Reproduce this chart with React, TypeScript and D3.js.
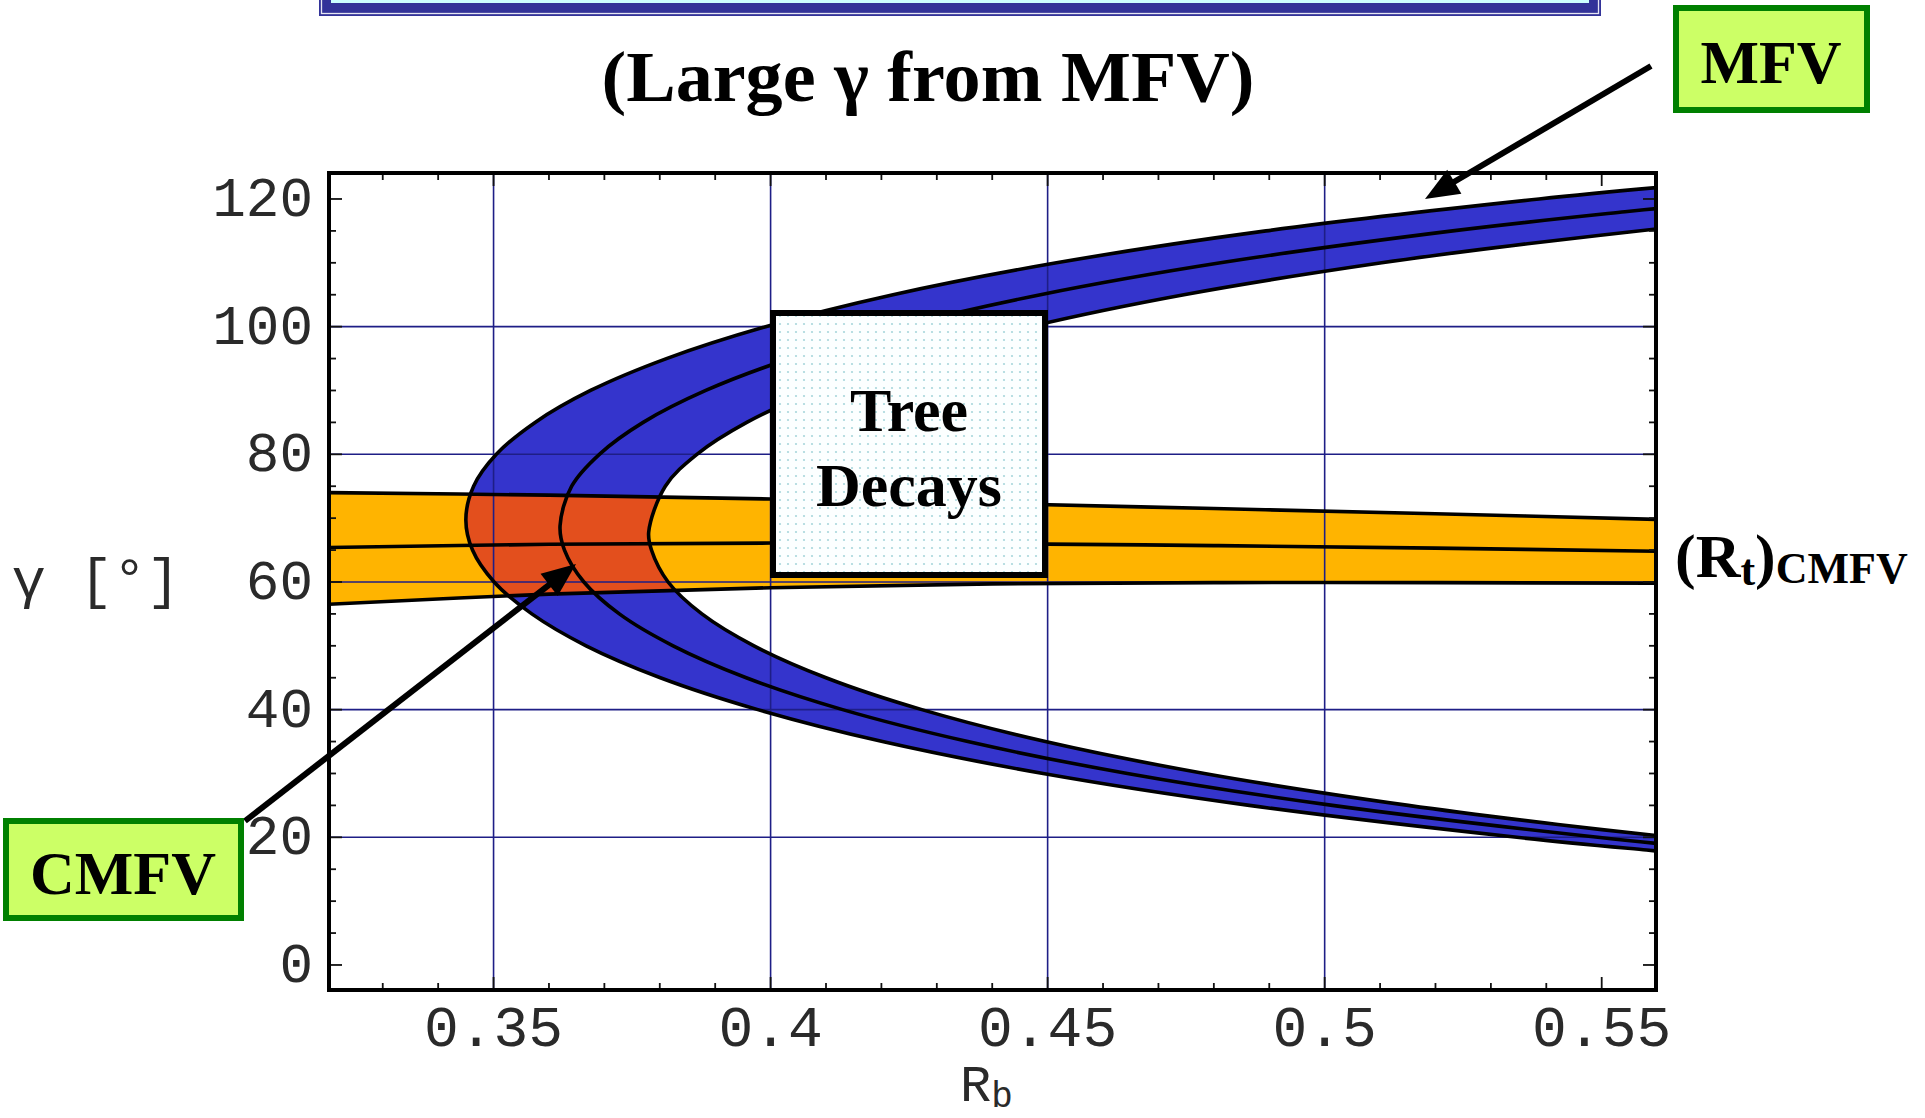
import React from "react";
import * as d3 from "d3";

const W = 1925;
const H = 1118;

// axis ticks
const rbTicks = [0.35, 0.4, 0.45, 0.5, 0.55];
const rbTickLabels = ["0.35", "0.4", "0.45", "0.5", "0.55"];
const rbGrid = [0.35, 0.4, 0.45, 0.5];
const gammaTicks = [0, 20, 40, 60, 80, 100, 120];
const gammaGrid = [20, 40, 60, 80, 100];

// MFV band (blue), points [Rb, gamma]
const mfvOuter: [number, number][] = [
  [0.5644, 17.5], [0.5581, 18], [0.5347, 20], [0.4864, 25], [0.4492, 30], [0.4202, 35],
  [0.3977, 40], [0.3801, 45], [0.3667, 50], [0.3569, 55], [0.3501, 60], [0.3462, 65],
  [0.345, 69.8], [0.3464, 75], [0.3505, 80], [0.3575, 85], [0.3675, 90], [0.3812, 95],
  [0.3991, 100], [0.4221, 105], [0.4516, 110], [0.4894, 115], [0.5387, 120], [0.5626, 122],
];
const mfvCentral: [number, number][] = [
  [0.5664, 18.5], [0.5493, 20], [0.5014, 25], [0.4644, 30], [0.4356, 35], [0.413, 40],
  [0.3956, 45], [0.3824, 50], [0.3727, 55], [0.3663, 60], [0.3628, 65], [0.362, 68.8],
  [0.3641, 75], [0.3691, 80], [0.377, 85], [0.3883, 90], [0.4035, 95], [0.4233, 100],
  [0.4487, 105], [0.4812, 110], [0.5231, 115], [0.5542, 118], [0.5657, 119],
];
const mfvInner: [number, number][] = [
  [0.5627, 20], [0.5421, 22], [0.5151, 25], [0.4783, 30], [0.4496, 35], [0.4273, 40],
  [0.41, 45], [0.397, 50], [0.3876, 55], [0.3815, 60], [0.3785, 65], [0.378, 67.8],
  [0.381, 75], [0.3867, 80], [0.3957, 85], [0.4083, 90], [0.4251, 95], [0.4468, 100],
  [0.4746, 105], [0.5103, 110], [0.5366, 113], [0.5672, 116],
];

// (Rt)CMFV band (orange)
const rtUpper: [number, number][] = [
  [0.32, 74.0], [0.36, 73.6], [0.4, 73.0], [0.44, 72.3], [0.48, 71.5], [0.52, 70.7], [0.56, 69.8],
];
const rtCentral: [number, number][] = [
  [0.32, 65.4], [0.36, 65.9], [0.4, 66.1], [0.44, 66.0], [0.48, 65.7], [0.52, 65.3], [0.56, 64.8],
];
const rtLower: [number, number][] = [
  [0.32, 56.5], [0.36, 58.1], [0.4, 59.1], [0.44, 59.7], [0.48, 59.9], [0.52, 59.9], [0.56, 59.8],
];

const SERIF = "'Liberation Serif', 'Times New Roman', serif";
const MONO = "'Liberation Mono', 'Courier New', monospace";

function arrow(x0: number, y0: number, x1: number, y1: number, head = 34, half = 14) {
  const dx = x1 - x0, dy = y1 - y0;
  const len = Math.hypot(dx, dy);
  const ux = dx / len, uy = dy / len;
  const bx = x1 - ux * head, by = y1 - uy * head;
  return {
    line: { x1: x0, y1: y0, x2: bx + ux * 4, y2: by + uy * 4 },
    head: `${x1},${y1} ${bx - uy * half},${by + ux * half} ${bx + uy * half},${by - ux * half}`,
  };
}

export default function App() {
  const x = d3.scaleLinear().domain([0.3203, 0.5598]).range([329, 1656]);
  const y = d3.scaleLinear().domain([-3.92, 124.07]).range([990, 173]);
  const [x0, x1] = x.range();
  const [y0, y1] = [y.range()[1], y.range()[0]];

  const line = d3.line<[number, number]>()
    .x(d => x(d[0]))
    .y(d => y(d[1]))
    .curve(d3.curveCatmullRom.alpha(0.5));
  const band = (a: [number, number][], b: [number, number][]) =>
    line(a)! + line(b.slice().reverse())!.replace(/^M/, "L") + "Z";

  const mfvBand = band(mfvOuter, mfvInner);
  const rtBand = band(rtUpper, rtLower);

  const xMinor = d3.range(33, 56).map(v => v / 100).filter(v => Math.round(v * 100) % 5 !== 0);
  const yMinor = d3.range(0, 125, 5).filter(v => v % 20 !== 0);

  const mfvArrow = arrow(1651, 66, 1425, 199);
  const cmfvArrow = arrow(245, 821, 576, 564);

  return (
    <svg width={W} height={H} style={{ position: "absolute", left: 0, top: 0, background: "#fff" }}>
      <defs>
        <clipPath id="plot">
          <rect x={x0} y={y0} width={x1 - x0} height={y1 - y0} />
        </clipPath>
        <clipPath id="rtClip">
          <path d={rtBand} />
        </clipPath>
        <pattern id="dots" width={8} height={8} patternUnits="userSpaceOnUse">
          <rect width={8} height={8} fill="#fcffff" />
          <circle cx={4} cy={4} r={1.1} fill="#a9d7dc" />
        </pattern>
      </defs>

      {/* header frame cut off at the top */}
      <rect x={319} y={-30} width={1282} height={46} fill="#333399" />
      <rect x={321.5} y={-30} width={1277} height={43.5} fill="none" stroke="#e6e6f2" strokeWidth={1.3} />
      <rect x={331} y={-30} width={1258} height={33} fill="#ccffff" />

      <text x={928} y={101} textAnchor="middle" fontFamily={SERIF} fontWeight="bold" fontSize={72}
        textLength={653} lengthAdjust="spacingAndGlyphs">(Large γ from MFV)</text>

      <g clipPath="url(#plot)">
        <path d={rtBand} fill="#ffb400" />
        <path d={mfvBand} fill="#3434cc" />
        <path d={mfvBand} fill="#e34f1d" clipPath="url(#rtClip)" />

        {rbGrid.map(v => (
          <line key={"gx" + v} x1={x(v)} x2={x(v)} y1={y0} y2={y1} stroke="#1e1e86" strokeWidth={1.6} />
        ))}
        {gammaGrid.map(v => (
          <line key={"gy" + v} x1={x0} x2={x1} y1={y(v)} y2={y(v)} stroke="#1e1e86" strokeWidth={1.6} />
        ))}

        {[rtUpper, rtCentral, rtLower, mfvOuter, mfvCentral, mfvInner].map((s, i) => (
          <path key={"c" + i} d={line(s)!} fill="none" stroke="#000" strokeWidth={3.6} strokeLinejoin="round" />
        ))}
      </g>

      {/* ticks */}
      <g stroke="#111" strokeWidth={1.8}>
        {rbTicks.map(v => (
          <g key={"tx" + v}>
            <line x1={x(v)} x2={x(v)} y1={y1} y2={y1 - 13} />
            <line x1={x(v)} x2={x(v)} y1={y0} y2={y0 + 13} />
          </g>
        ))}
        {xMinor.map(v => (
          <g key={"mx" + v}>
            <line x1={x(v)} x2={x(v)} y1={y1} y2={y1 - 7} />
            <line x1={x(v)} x2={x(v)} y1={y0} y2={y0 + 7} />
          </g>
        ))}
        {gammaTicks.map(v => (
          <g key={"ty" + v}>
            <line x1={x0} x2={x0 + 13} y1={y(v)} y2={y(v)} />
            <line x1={x1} x2={x1 - 13} y1={y(v)} y2={y(v)} />
          </g>
        ))}
        {yMinor.map(v => (
          <g key={"my" + v}>
            <line x1={x0} x2={x0 + 7} y1={y(v)} y2={y(v)} />
            <line x1={x1} x2={x1 - 7} y1={y(v)} y2={y(v)} />
          </g>
        ))}
      </g>

      <rect x={x0} y={y0} width={x1 - x0} height={y1 - y0} fill="none" stroke="#000" strokeWidth={4} />

      {/* tick labels */}
      <g fontFamily={MONO} fill="#2a2a2a">
        {rbTicks.map((v, i) => (
          <text key={"lx" + v} x={x(v)} y={1046} fontSize={58} textAnchor="middle">{rbTickLabels[i]}</text>
        ))}
        {gammaTicks.map(v => (
          <text key={"ly" + v} x={313} y={y(v) + 17} fontSize={56} textAnchor="end">{v}</text>
        ))}
      </g>
      <text x={12} y={597} fontFamily={MONO} fontSize={56} fill="#2a2a2a">γ [°]</text>
      <text x={960} y={1101} fontFamily={MONO} fontSize={52} fill="#2a2a2a">
        R<tspan fontSize={36} dy={6}>b</tspan>
      </text>

      {/* tree decays box */}
      <rect x={773} y={313} width={272} height={262} fill="url(#dots)" stroke="#000" strokeWidth={6} />
      <text x={909} y={431} textAnchor="middle" fontFamily={SERIF} fontWeight="bold" fontSize={62}>Tree</text>
      <text x={909} y={506} textAnchor="middle" fontFamily={SERIF} fontWeight="bold" fontSize={62}>Decays</text>

      {/* (Rt)CMFV label */}
      <text x={1675} y={577} fontFamily={SERIF} fontWeight="bold" fontSize={62}>
        (R<tspan fontSize={44} dy={8}>t</tspan><tspan dy={-8}>)</tspan><tspan fontSize={44} dy={6}>CMFV</tspan>
      </text>

      {/* MFV annotation */}
      <line {...mfvArrow.line} stroke="#000" strokeWidth={6} />
      <polygon points={mfvArrow.head} fill="#000" />
      <rect x={1676} y={8} width={191} height={102} fill="#ccff66" stroke="#008000" strokeWidth={6} />
      <text x={1771} y={83} textAnchor="middle" fontFamily={SERIF} fontWeight="bold" fontSize={62}>MFV</text>

      {/* CMFV annotation */}
      <line {...cmfvArrow.line} stroke="#000" strokeWidth={6} />
      <polygon points={cmfvArrow.head} fill="#000" />
      <rect x={6} y={821} width={235} height={97} fill="#ccff66" stroke="#008000" strokeWidth={6} />
      <text x={123} y={894} textAnchor="middle" fontFamily={SERIF} fontWeight="bold" fontSize={62}>CMFV</text>
    </svg>
  );
}
